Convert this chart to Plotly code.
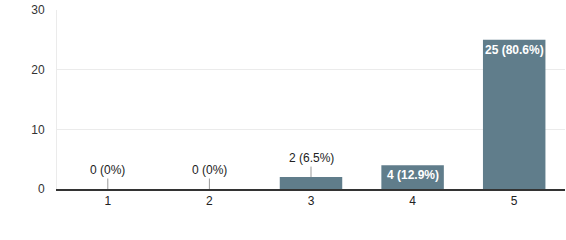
import plotly.graph_objects as go

categories = ["1", "2", "3", "4", "5"]
counts = [0, 0, 2, 4, 25]
percents = ["0%", "0%", "6.5%", "12.9%", "80.6%"]
y_ticks = [0, 10, 20, 30]

BAR = "#607d8b"
FONT = "Liberation Sans, Arial, sans-serif"

fig = go.Figure(go.Bar(x=categories, y=counts, marker_color=BAR, marker_line_width=0))

labels = [f"{c} ({p})" for c, p in zip(counts, percents)]
annotations = []
for i, (c, lab) in enumerate(zip(counts, labels)):
    if c >= 4:
        annotations.append(dict(x=i, y=c, text=lab, showarrow=False, yanchor="top", yshift=-1,
                                font=dict(family=FONT, size=12, color="white", weight="bold")))
    else:
        annotations.append(dict(x=i, y=c, text=lab, showarrow=True, arrowhead=0, arrowwidth=1,
                                arrowcolor="#999999", ax=0, ay=-19,
                                font=dict(family=FONT, size=12, color="#222222")))

fig.update_layout(
    width=566, height=240,
    margin=dict(l=57, r=1, t=10, b=51),
    paper_bgcolor="white", plot_bgcolor="white",
    bargap=0.385,
    showlegend=False,
    font=dict(family=FONT, size=12, color="#222222"),
    annotations=annotations,
    xaxis=dict(type="category", range=[-0.5, len(categories) - 0.5], showgrid=False, showline=True,
               linecolor="#333333", linewidth=1.5,
               ticks="", tickfont=dict(size=12, color="#222222"), fixedrange=True),
    yaxis=dict(range=[0, 30], tickvals=y_ticks, showgrid=True, gridcolor="#ebebeb", gridwidth=1,
               showline=True, linecolor="#ebebeb", linewidth=1, zeroline=False,
               ticks="", ticklabelstandoff=9, tickfont=dict(size=12, color="#333333"), fixedrange=True),
)

fig.write_html("out.html")
